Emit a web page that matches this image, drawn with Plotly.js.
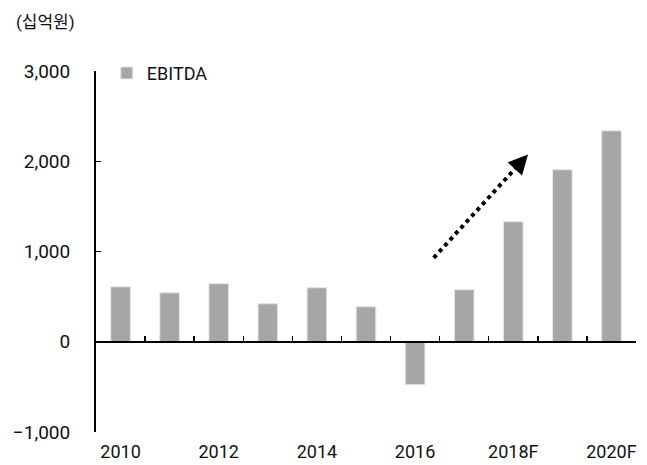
<!DOCTYPE html>
<html><head><meta charset="utf-8">
<script src="https://cdn.plot.ly/plotly-3.0.1.min.js"></script>
<style>body{margin:0;background:#fff}</style>
</head><body><div id="chart" style="width:647px;height:465px"></div>
<script>
const categories = ['2010','2011','2012','2013','2014','2015','2016','2017','2018F','2019F','2020F'];
const ebitda = [609, 543, 643, 421, 598, 388, -476, 576, 1330, 1906, 2338];
const tickLabels = ['2010','2012','2014','2016','2018F','2020F'];
const yTicks = [-1000, 0, 1000, 2000, 3000];
const unitLabel = '(십억원)';
const seriesName = 'EBITDA';
const trendFrom = [6.38, 930];
const trendTo = [8.3, 2075];

const FONT = 'Roboto, "Noto Sans CJK KR", sans-serif';
const headFrac = 0.12;
const headBase = [trendTo[0] - (trendTo[0]-trendFrom[0])*headFrac, trendTo[1] - (trendTo[1]-trendFrom[1])*headFrac];

const traces = [
  {type:'bar', x: categories, y: ebitda, name: seriesName, xaxis:'x', yaxis:'y',
   marker:{color:'#a6a6a6', line:{color:'#e6e6e6', width:1}}, hoverinfo:'x+y'},
  {type:'scatter', mode:'none', x: categories, y: ebitda, xaxis:'x2', yaxis:'y', showlegend:false, hoverinfo:'skip'}
];

const layout = {
  width: 647, height: 465,
  margin: {l:96, r:11, t:71, b:33},
  paper_bgcolor:'#fff', plot_bgcolor:'#fff',
  font: {family: FONT, size: 18, color:'#111'},
  bargap: 0.6,
  showlegend: true,
  legend: {x: 0.02, y: 1.045, xanchor:'left', yanchor:'top', font:{size:18}, bgcolor:'rgba(0,0,0,0)', itemwidth:30},
  xaxis: {type:'category', categoryarray: categories, range:[-0.5, 10.5], showline:false, ticks:'', showgrid:false, zeroline:false,
          tickmode:'array', tickvals: tickLabels, ticktext: tickLabels, tickfont:{size:18}, ticklabelstandoff: 7},
  xaxis2: {type:'category', categoryarray: categories, range:[-0.5, 10.5], overlaying:'x', anchor:'free', position:0.25,
           showline:true, linecolor:'#000', linewidth:2, ticks:'inside', tickson:'boundaries', ticklen:5, tickwidth:1.5, tickcolor:'#000',
           showticklabels:false, showgrid:false, zeroline:false},
  yaxis: {range:[-1000, 3000], tickmode:'array', tickvals: yTicks, tickformat:',', ticks:'inside', ticklen:5, tickwidth:1.5, tickcolor:'#000',
          showline:true, linecolor:'#000', linewidth:2, showgrid:false, zeroline:false, ticklabelstandoff: 20, tickfont:{size:19}},
  shapes: [
    {type:'line', xref:'x', yref:'y', x0: trendFrom[0], y0: trendFrom[1], x1: headBase[0], y1: headBase[1],
     line:{color:'#000', width:4, dash:'dot'}}
  ],
  annotations: [
    {xref:'paper', yref:'paper', x:-0.152, y:1.135, xanchor:'left', yanchor:'middle', text: unitLabel, showarrow:false, font:{size:17}},
    {xref:'x', yref:'y', axref:'x', ayref:'y', x: trendTo[0], y: trendTo[1], ax: headBase[0], ay: headBase[1], text:'',
     showarrow:true, arrowhead:2, arrowsize:1.3, arrowwidth:3, arrowcolor:'#000', standoff:0, startstandoff:0}
  ]
};

Plotly.newPlot('chart', traces, layout, {displayModeBar:false, staticPlot:true});
</script>
</body></html>
